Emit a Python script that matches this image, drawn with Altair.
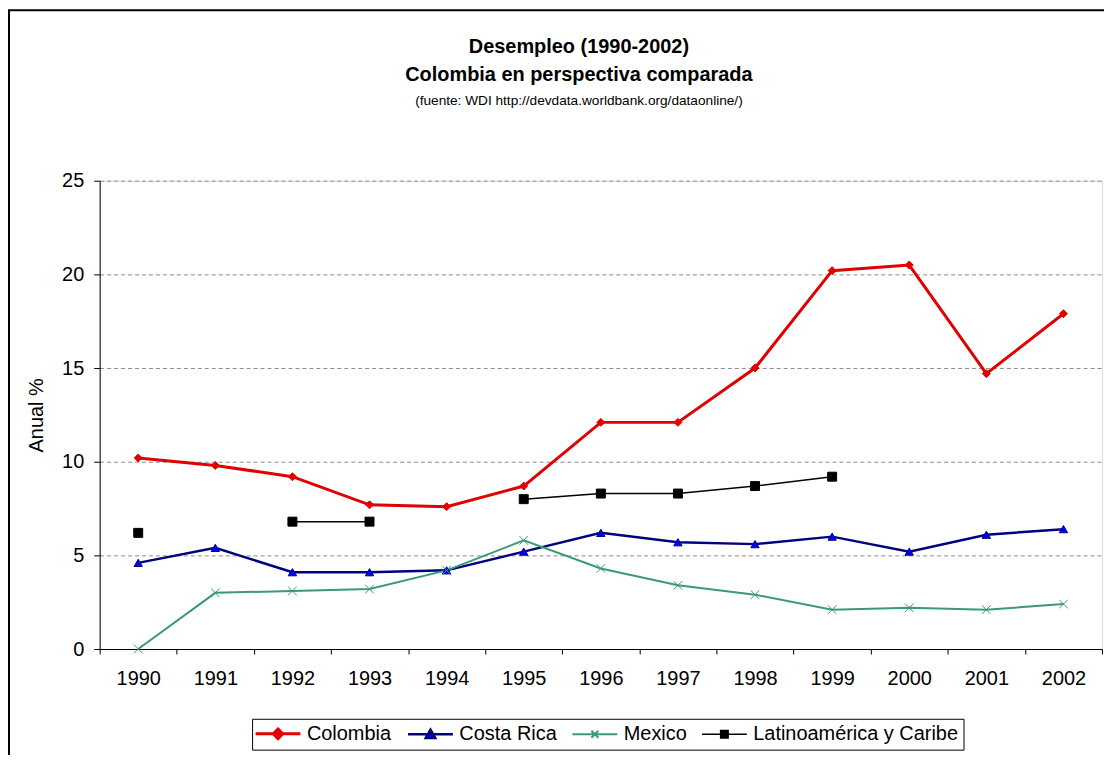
import altair as alt
import pandas as pd

years = [1990, 1991, 1992, 1993, 1994, 1995, 1996, 1997, 1998, 1999, 2000, 2001, 2002]
series_names = ["Colombia", "Costa Rica", "Mexico", "Latinoamérica y Caribe"]
colombia = [10.2, 9.8, 9.2, 7.7, 7.6, 8.7, 12.1, 12.1, 15.0, 20.2, 20.5, 14.7, 17.9]
costa_rica = [4.6, 5.4, 4.1, 4.1, 4.2, 5.2, 6.2, 5.7, 5.6, 6.0, 5.2, 6.1, 6.4]
mexico = [0.0, 3.0, 3.1, 3.2, 4.2, 5.8, 4.3, 3.4, 2.9, 2.1, 2.2, 2.1, 2.4]
latam = [6.2, None, 6.8, 6.8, None, 8.0, 8.3, 8.3, 8.7, 9.2, None, None, None]
y_ticks = [0, 5, 10, 15, 20, 25]

line_colors = ["#e00000", "#000080", "#3a9a78", "#000000"]
marker_fill = ["#e00000", "#0000ff", "#3a9a78", "#000000"]
marker_shapes = ["diamond", "triangle-up", "M-1,-1L1,1M-1,1L1,-1", "square"]
marker_sizes = [100, 110, 64, 81]
line_widths = [3, 1.5, 1.2, 1.5]

FONT = "Liberation Sans"

rows = []
for name, vals in zip(series_names, [colombia, costa_rica, mexico, latam]):
    seg = 0
    gap = True
    for yr, v in zip(years, vals):
        if v is None:
            gap = True
            continue
        if gap:
            seg += 1
            gap = False
        rows.append({"year": str(yr), "value": v, "series": name,
                     "marker": name, "segment": f"{name}-{seg}"})
df = pd.DataFrame(rows)

year_domain = [str(y) for y in years]

x_enc = alt.X(
    "year:O",
    scale=alt.Scale(type="band", domain=year_domain, paddingInner=0, paddingOuter=0),
    axis=alt.Axis(
        title=None, labelAngle=0, tickBand="extent", tickSize=5, labelPadding=15,
        labelFont=FONT, labelFontSize=20, labelColor="black",
        domainColor="black", tickColor="black", grid=False,
    ),
)
y_enc = alt.Y(
    "value:Q",
    scale=alt.Scale(domain=[0, 25], nice=False),
    axis=alt.Axis(
        values=y_ticks, title="Anual %", titleFont=FONT, titleFontSize=20,
        titleFontWeight="normal", titleColor="black", titlePadding=15,
        labelFont=FONT, labelFontSize=20, labelColor="black", labelPadding=10,
        tickSize=6, domainColor="black", tickColor="black",
        grid=True, gridDash=[4, 3], gridColor="#8c8c8c", gridWidth=1,
    ),
)

color_scale = alt.Scale(domain=series_names, range=line_colors)
fill_scale = alt.Scale(domain=series_names, range=marker_fill)
# marker scales use reversed order so that they stay out of the legend
shape_scale = alt.Scale(domain=series_names[::-1], range=marker_shapes[::-1])
size_scale = alt.Scale(domain=series_names[::-1], range=marker_sizes[::-1])

shape_expr = (
    "datum.value === 'Colombia' ? 'M-4.5,0L4.5,0M0,-0.95L0.95,0L0,0.95L-0.95,0Z' : "
    "datum.value === 'Costa Rica' ? 'M-4.5,0L4.5,0M0,-0.9L0.95,0.75L-0.95,0.75Z' : "
    "datum.value === 'Mexico' ? 'M-4.5,0L4.5,0M-0.7,-0.7L0.7,0.7M-0.7,0.7L0.7,-0.7' : "
    "'M-4.5,0L4.5,0M-0.75,-0.75L0.75,-0.75L0.75,0.75L-0.75,0.75Z'"
)

legend = alt.Legend(
    title=None, orient="none", direction="horizontal", legendX=153, legendY=540,
    labelFont=FONT, labelFontSize=20, labelColor="black", labelLimit=400,
    strokeColor="black", fillColor="white", padding=5, cornerRadius=0,
    symbolSize=100, symbolOffset=11, labelOffset=19, columnPadding=11,
    symbolType={"expr": shape_expr},
    symbolFillColor={"expr": "scale('fill', datum.value)"},
    symbolStrokeColor={"expr": "scale('color', datum.value)"},
    symbolStrokeWidth={"expr": "datum.value === 'Colombia' ? 2.5 : 1.3"},
    symbolOpacity=1,
)

frame = alt.Chart(pd.DataFrame({"frame": [0]})).mark_rect(
    fillOpacity=0, stroke="black", strokeWidth=2, clip=False
).encode(
    x=alt.value(-91), x2=alt.value(1200), y=alt.value(-171), y2=alt.value(900)
)

lines = alt.Chart(df).mark_line().encode(
    x=x_enc,
    y=y_enc,
    color=alt.Color("series:N", scale=color_scale, legend=legend),
    detail="segment:N",
    strokeWidth=alt.StrokeWidth("series:N", scale=alt.Scale(domain=series_names, range=line_widths), legend=None),
)

points = alt.Chart(df).mark_point(filled=False, opacity=1, strokeWidth=1).encode(
    x=x_enc,
    y=y_enc,
    color=alt.Color("series:N", scale=color_scale, legend=legend),
    fill=alt.Fill("series:N", scale=fill_scale, legend=None),
    shape=alt.Shape("marker:N", scale=shape_scale, legend=None),
    size=alt.Size("marker:N", scale=size_scale, legend=None),
)

chart = alt.layer(frame, lines, points).properties(
    width=1006,
    height=470,
    autosize="none",
    padding={"left": 92, "top": 172, "right": 2, "bottom": 105},
    title=alt.TitleParams(
        text=["Desempleo (1990-2002)", "Colombia en perspectiva comparada"],
        subtitle="(fuente: WDI http://devdata.worldbank.org/dataonline/)",
        font=FONT, fontSize=20, fontWeight="bold", lineHeight=29, color="black",
        subtitleFont=FONT, subtitleFontSize=13.7, subtitleColor="black",
        subtitlePadding=9, anchor="middle", frame="group", dx=-22, dy=99, offset=0,
    ),
).configure_view(stroke=None).configure(background="white")

chart.save("out.html", embed_options={"renderer": "svg", "actions": False})
